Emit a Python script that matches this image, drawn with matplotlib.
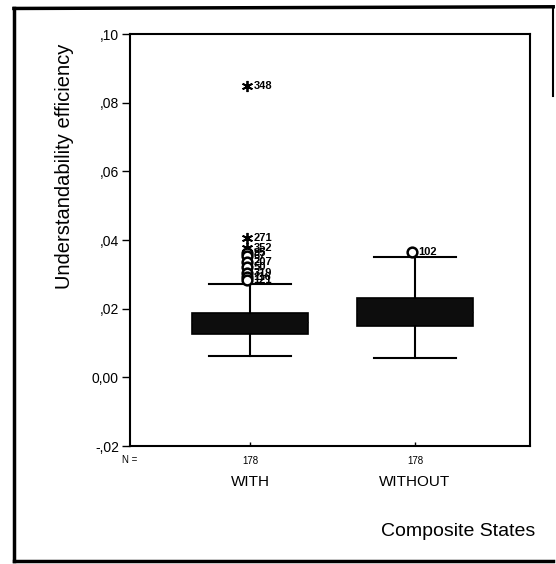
import matplotlib
matplotlib.use("Agg")
import matplotlib.pyplot as plt
from matplotlib.lines import Line2D

# box summaries
groups = ["WITH", "WITHOUT"]
n_cases = [178, 178]
q1 = [0.0125, 0.0149]
q3 = [0.0188, 0.0231]
median = [0.0160, 0.0190]
whisker_lo = [0.0062, 0.0057]
whisker_hi = [0.0272, 0.0350]

# outliers: (group index, value, case label, extreme?)
out_group = [0, 0, 0, 0, 0, 0, 0, 0, 0, 0, 1]
out_value = [0.0849, 0.0406, 0.0377, 0.0363, 0.0352, 0.0337, 0.0322, 0.0304, 0.0293, 0.0283, 0.0366]
out_label = ["348", "271", "352", "95", "67", "207", "50", "319", "116", "121", "102"]
out_extreme = [True, True, True, False, False, False, False, False, False, False, False]

yticks = [-0.02, 0.0, 0.02, 0.04, 0.06, 0.08, 0.10]
ytick_labels = ["-,02", "0,00", ",02", ",04", ",06", ",08", ",10"]

plt.rcParams["font.family"] = ["Liberation Sans", "DejaVu Sans"]

W, H = 556, 564
fig = plt.figure(figsize=(W / 100, H / 100), dpi=100)
ax = fig.add_axes([130 / W, 1 - 446 / H, 400 / W, 412 / H])

positions = [1, 2]
stats = []
for i, g in enumerate(groups):
    stats.append(dict(label=g, q1=q1[i], q3=q3[i], med=median[i],
                      whislo=whisker_lo[i], whishi=whisker_hi[i], fliers=[]))

ax.bxp(stats, positions=positions, widths=0.7, showfliers=False, patch_artist=True,
       boxprops=dict(facecolor="#0d0d0d", edgecolor="black", linewidth=1.2),
       medianprops=dict(color="#0d0d0d", linewidth=1),
       whiskerprops=dict(color="black", linewidth=1.5),
       capprops=dict(color="black", linewidth=1.5),
       capwidths=0.5)

for g, v, lab, ext in zip(out_group, out_value, out_label, out_extreme):
    x = positions[g] - 0.02
    if ext:
        ax.plot(x, v, marker=(6, 2, 0), color="black", markersize=8, mew=1.3)
    else:
        ax.plot(x, v, marker="o", mfc="white", mec="black", markersize=7, mew=1.8)
    ax.annotate(lab, (x, v), xytext=(5, 0), textcoords="offset points",
                fontsize=8, fontweight="bold", va="center", ha="left")

ax.set_xlim(0.273, 2.697)
ax.set_ylim(-0.02, 0.10)
ax.set_yticks(yticks)
ax.set_yticklabels(ytick_labels, fontsize=10)
ax.tick_params(axis="y", direction="out", length=6, width=1, pad=2)
ax.set_xticks(positions)
ax.set_xticklabels([str(n) for n in n_cases], fontsize=7)
ax.tick_params(axis="x", direction="in", length=3, width=1, pad=7)
for s in ax.spines.values():
    s.set_linewidth(1.5)

fig.text(65 / W, 1 - 166 / H, "Understandability efficiency", fontsize=14.5,
         rotation=90, ha="center", va="center")

fig.text(130 / W, 1 - 460 / H, "N =", fontsize=7, ha="center", va="center")
for pos, g in zip(positions, groups):
    xf = ax.transData.transform((pos, 0))[0] / fig.bbox.width
    fig.text(xf, 1 - 482 / H, g, fontsize=11, ha="center", va="center")
fig.text(535 / W, 1 - 532 / H, "Composite States", fontsize=14, ha="right", va="center")

# scanned outer frame
fig.add_artist(Line2D([0.025, 0.025], [0.005, 0.985], transform=fig.transFigure, color="black", lw=2.5))
fig.add_artist(Line2D([0.025, 0.995], [0.985, 0.988], transform=fig.transFigure, color="black", lw=2.5))
fig.add_artist(Line2D([0.025, 0.995], [0.005, 0.005], transform=fig.transFigure, color="black", lw=2.5))
fig.add_artist(Line2D([0.995, 0.995], [0.83, 0.988], transform=fig.transFigure, color="black", lw=1.5))

fig.savefig("out.png", dpi=100)
